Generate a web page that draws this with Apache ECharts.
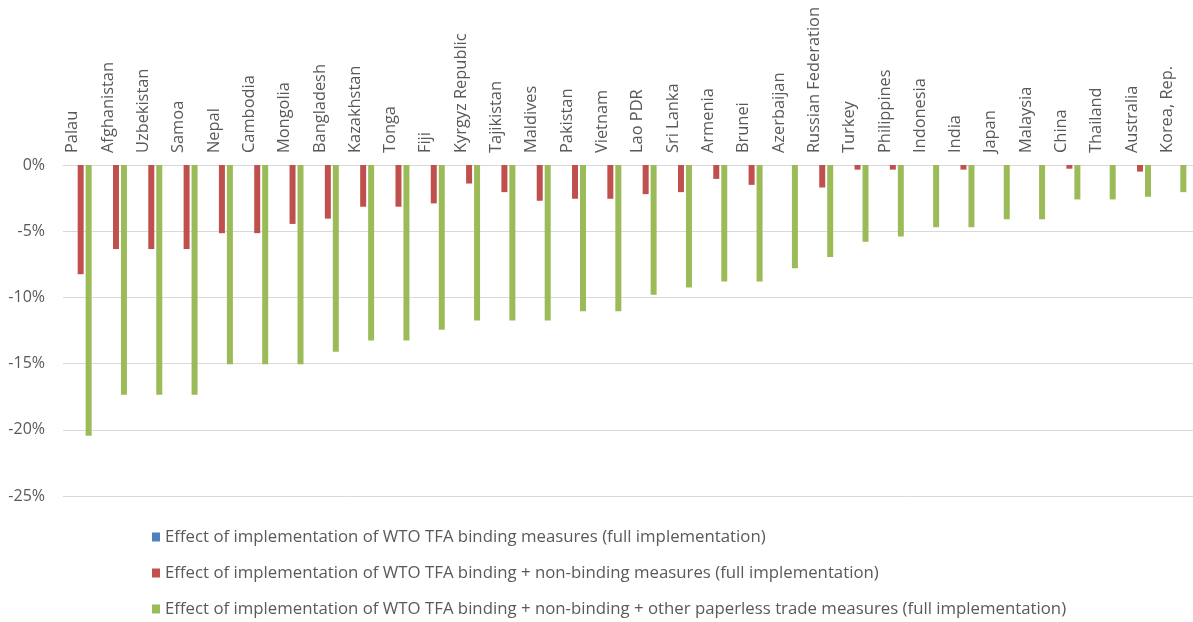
<!DOCTYPE html>
<html>
<head>
<meta charset="utf-8">
<script src="https://cdn.jsdelivr.net/npm/echarts@6/dist/echarts.min.js"></script>
<style>
  html, body { margin: 0; padding: 0; background: #ffffff; }
  #chart { width: 1193px; height: 622px; }
</style>
</head>
<body>
<div id="chart"></div>
<script>
// Economies, ordered by the size of the full-package effect
const countries = [
  'Palau', 'Afghanistan', 'Uzbekistan', 'Samoa', 'Nepal', 'Cambodia', 'Mongolia',
  'Bangladesh', 'Kazakhstan', 'Tonga', 'Fiji', 'Kyrgyz Republic', 'Tajikistan',
  'Maldives', 'Pakistan', 'Vietnam', 'Lao PDR', 'Sri Lanka', 'Armenia', 'Brunei',
  'Azerbaijan', 'Russian Federation', 'Turkey', 'Philippines', 'Indonesia', 'India',
  'Japan', 'Malaysia', 'China', 'Thailand', 'Australia', 'Korea, Rep.'
];

// Series names
const seriesNames = [
  'Effect of implementation of WTO TFA binding measures (full implementation)',
  'Effect of implementation of WTO TFA binding + non-binding measures (full implementation)',
  'Effect of implementation of WTO TFA binding + non-binding + other paperless trade measures (full implementation)'
];

// Change in trade costs, percent
const bindingOnly = [
  0, 0, 0, 0, 0, 0, 0, 0, 0, 0, 0, 0, 0, 0, 0, 0,
  0, 0, 0, 0, 0, 0, 0, 0, 0, 0, 0, 0, 0, 0, 0, 0
];
const bindingNonBinding = [
  -8.25, -6.35, -6.35, -6.35, -5.15, -5.15, -4.45, -4.05, -3.15, -3.15, -2.9,
  -1.4, -2.05, -2.7, -2.55, -2.55, -2.2, -2.05, -1.05, -1.5, 0, -1.7,
  -0.35, -0.35, 0, -0.35, 0, 0, -0.28, 0, -0.5, 0
];
const fullPackage = [
  -20.45, -17.35, -17.35, -17.35, -15.05, -15.05, -15.05, -14.1, -13.25, -13.25,
  -12.45, -11.75, -11.75, -11.75, -11.05, -11.05, -9.8, -9.25, -8.8, -8.8, -7.8,
  -6.95, -5.8, -5.4, -4.7, -4.7, -4.1, -4.1, -2.6, -2.6, -2.4, -2.05
];

// Value axis range and step
const yMin = -25;
const yMax = 0;
const yStep = 5;

const colors = ['#4f81bd', '#c0504d', '#9bbb59'];
const textColor = '#595959';
const fontFamily = '"Open Sans", Lato, sans-serif';

const chart = echarts.init(document.getElementById('chart'), null, { renderer: 'canvas' });

const seriesData = [bindingOnly, bindingNonBinding, fullPackage];

chart.setOption({
  animation: false,
  backgroundColor: '#ffffff',
  color: colors,
  textStyle: { fontFamily: fontFamily, color: textColor },
  grid: { left: 63, right: 0, top: 165, bottom: 126, containLabel: false },
  legend: {
    orient: 'vertical',
    left: 152,
    top: 528,
    bottom: 0,
    padding: 0,
    itemWidth: 8,
    itemHeight: 9,
    itemGap: 18,
    icon: 'rect',
    selectedMode: false,
    textStyle: { fontSize: 16.8, lineHeight: 18, color: textColor, fontFamily: fontFamily },
    data: seriesNames
  },
  xAxis: {
    type: 'category',
    data: countries,
    position: 'top',
    axisLine: { show: true, lineStyle: { color: '#d9d9d9', width: 1 } },
    axisTick: { show: false },
    axisLabel: {
      interval: 0,
      rotate: 90,
      margin: 12,
      fontSize: 16.4,
      lineHeight: 16,
      verticalAlign: 'bottom',
      color: textColor,
      fontFamily: fontFamily
    },
    splitLine: { show: false }
  },
  yAxis: {
    type: 'value',
    min: yMin,
    max: yMax,
    interval: yStep,
    axisLine: { show: false },
    axisTick: { show: false },
    axisLabel: {
      formatter: v => v + '%',
      fontSize: 16,
      margin: 18,
      color: textColor,
      fontFamily: fontFamily
    },
    splitLine: { show: true, lineStyle: { color: '#d9d9d9', width: 1 } }
  },
  series: seriesNames.map((name, i) => ({
    name: name,
    type: 'bar',
    data: seriesData[i],
    barWidth: 6,
    barGap: '33%',
    itemStyle: { color: colors[i] }
  }))
});
</script>
</body>
</html>
